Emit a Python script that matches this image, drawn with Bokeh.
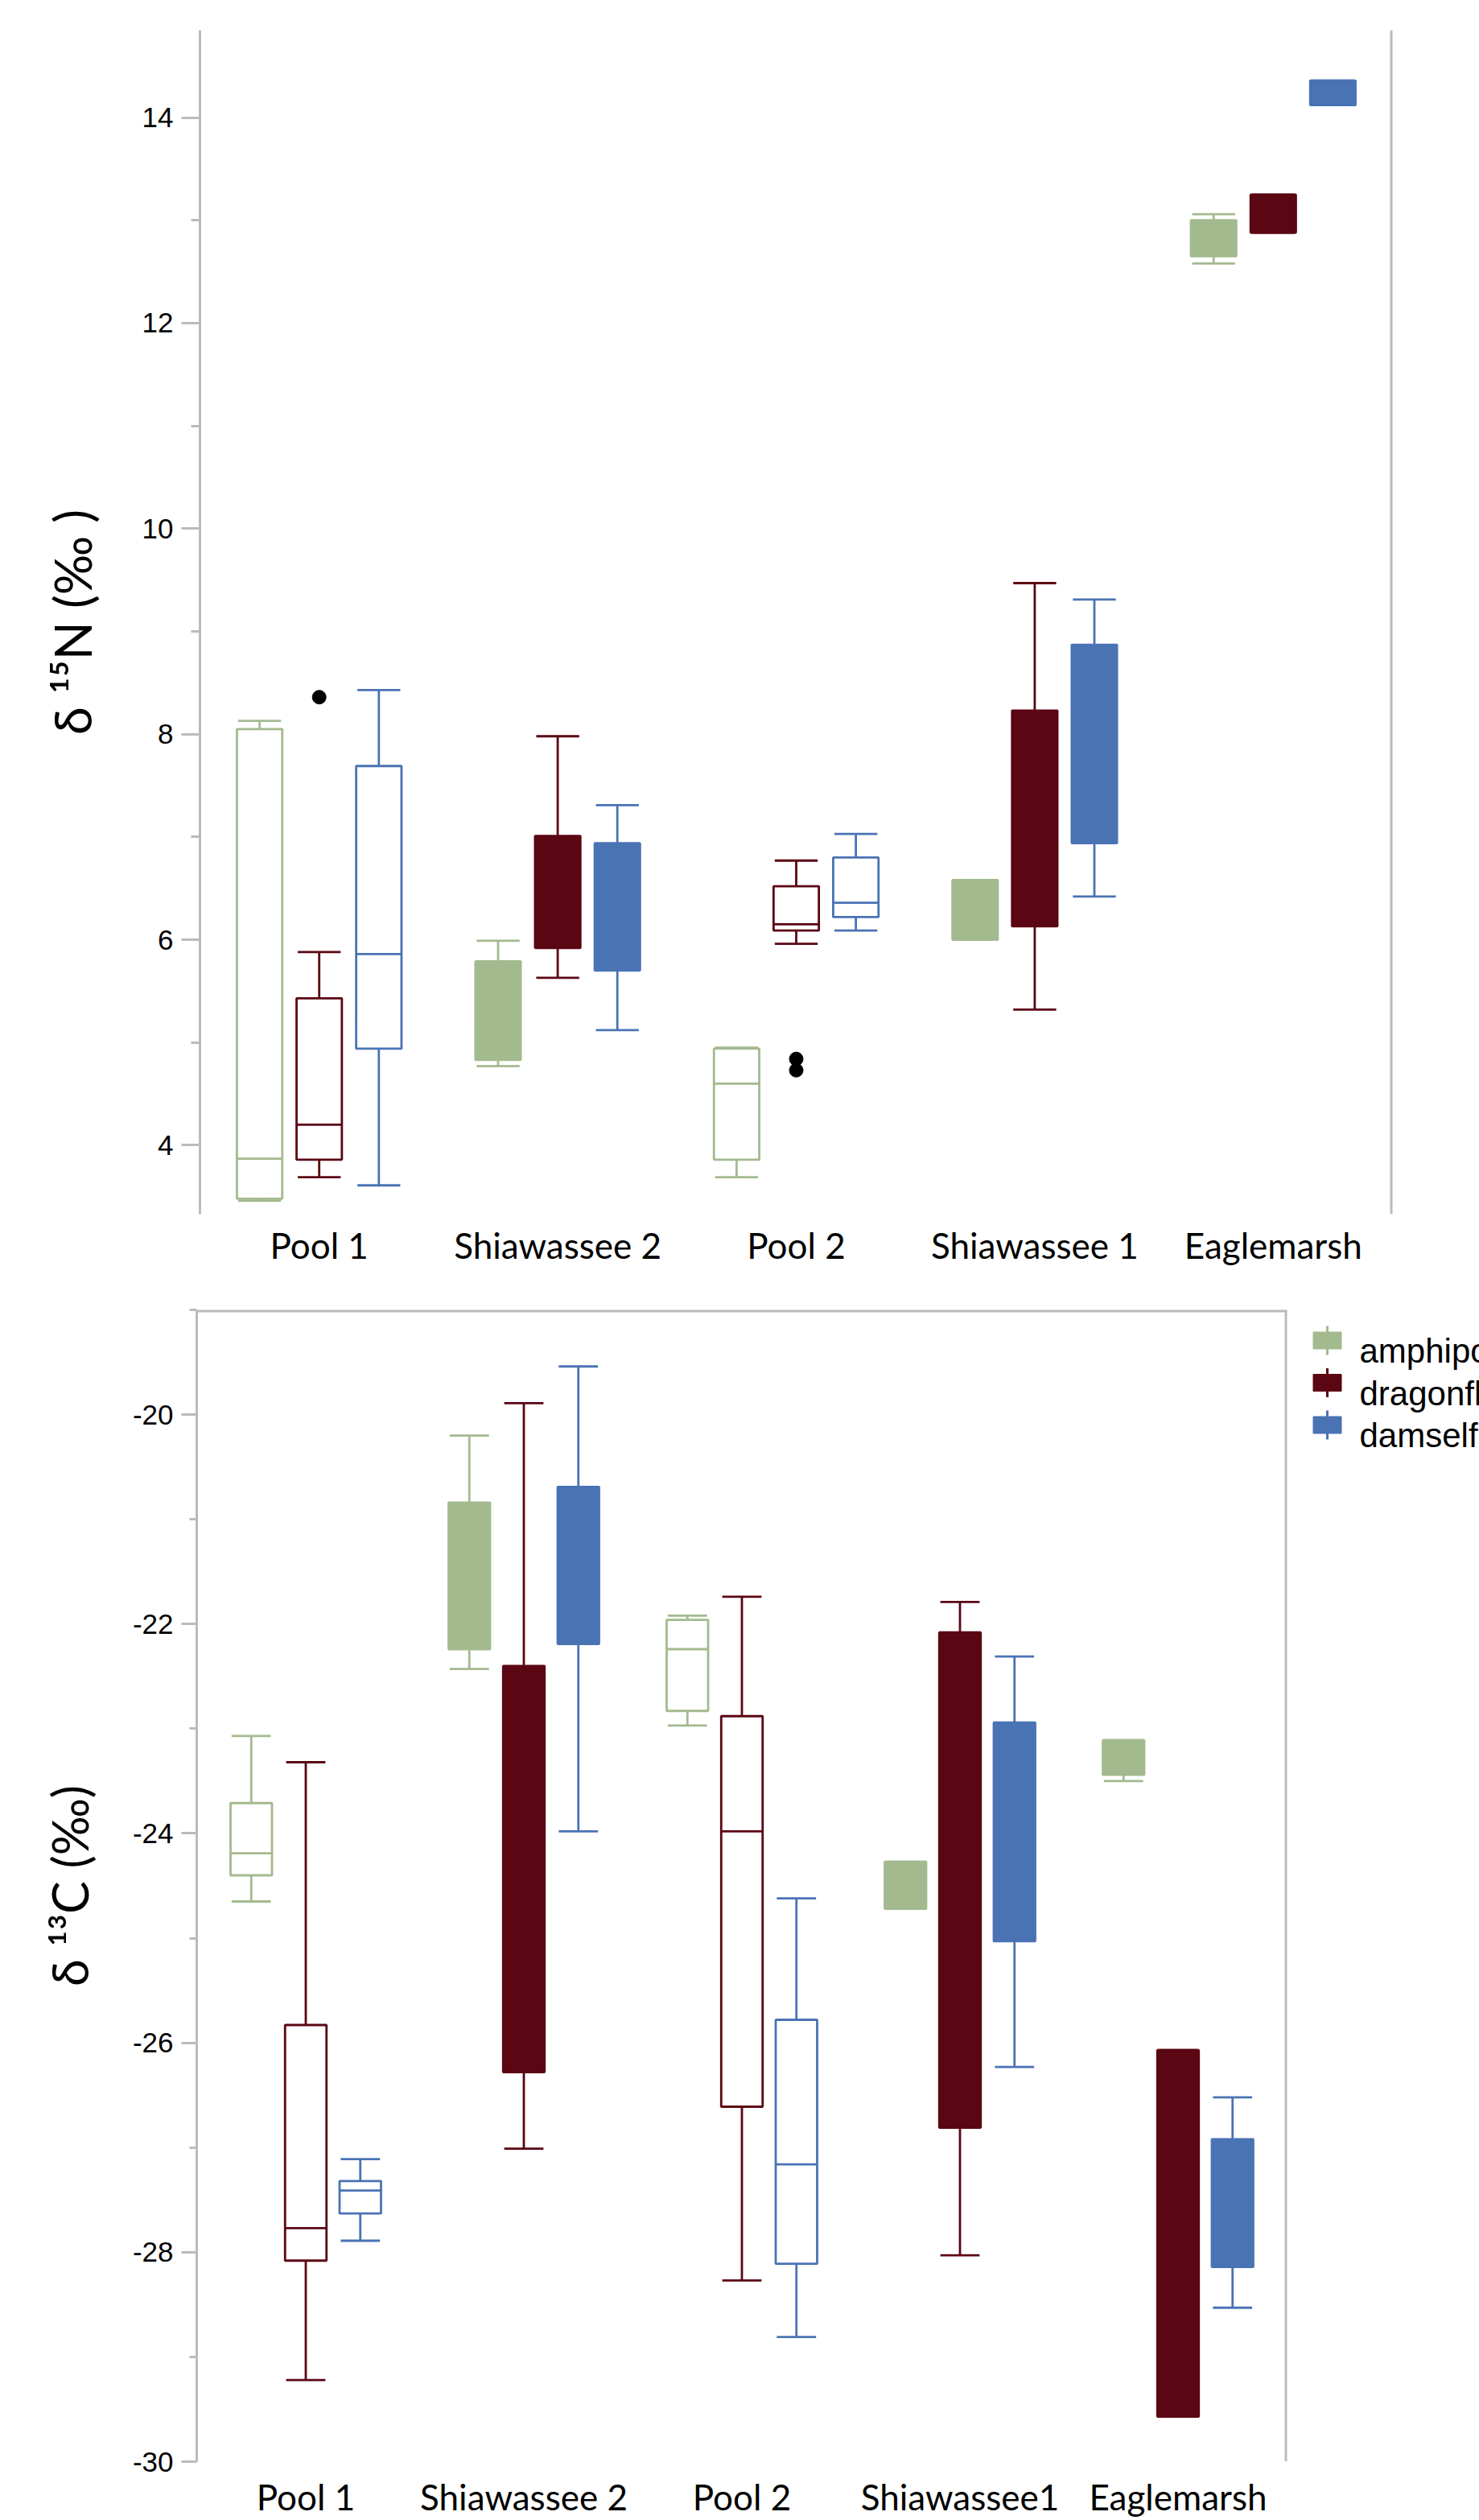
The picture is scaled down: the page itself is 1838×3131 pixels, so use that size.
from bokeh.plotting import figure
from bokeh.models import (ColumnDataSource, FactorRange, Range1d, FixedTicker, Span,
                          PrintfTickFormatter)
from bokeh.core.properties import value
from bokeh.transform import dodge
from bokeh.layouts import column, row
from bokeh.embed import file_html
from bokeh.resources import INLINE

# ---------------- data ----------------
sites_n = ["Pool 1", "Shiawassee 2", "Pool 2", "Shiawassee 1", "Eaglemarsh"]
sites_c = ["Pool 1", "Shiawassee 2", "Pool 2", "Shiawassee1", "Eaglemarsh"]
species = ["amphipod", "dragonfly", "damselfly"]
filled_sites = [False, True, False, True, True]

# delta 15N (permil): whisker low, Q1, median, Q3, whisker high per site
n_amphipod_low = [3.46, 4.77, 3.69, 6.00, 12.58]
n_amphipod_q1 = [3.48, 4.83, 3.86, 6.00, 12.65]
n_amphipod_med = [3.87, None, 4.60, None, None]
n_amphipod_q3 = [8.05, 5.79, 4.94, 6.58, 13.00]
n_amphipod_high = [8.13, 5.99, 4.95, 6.58, 13.06]

n_dragonfly_low = [3.69, 5.63, 5.96, 5.32, 12.88]
n_dragonfly_q1 = [3.86, 5.92, 6.09, 6.13, 12.88]
n_dragonfly_med = [4.20, None, 6.15, None, None]
n_dragonfly_q3 = [5.43, 7.01, 6.52, 8.23, 13.25]
n_dragonfly_high = [5.88, 7.98, 6.77, 9.47, 13.25]

n_damselfly_low = [3.61, 5.12, 6.09, 6.42, 14.12]
n_damselfly_q1 = [4.94, 5.70, 6.22, 6.94, 14.12]
n_damselfly_med = [5.86, None, 6.36, None, None]
n_damselfly_q3 = [7.69, 6.94, 6.80, 8.87, 14.36]
n_damselfly_high = [8.43, 7.31, 7.03, 9.31, 14.36]

n_outlier_site = ["Pool 1", "Pool 2", "Pool 2"]
n_outlier_value = [8.36, 4.84, 4.73]

# delta 13C (permil)
c_amphipod_low = [-24.65, -22.43, -22.97, -24.72, -23.50]
c_amphipod_q1 = [-24.40, -22.24, -22.83, -24.72, -23.44]
c_amphipod_med = [-24.19, None, -22.24, None, None]
c_amphipod_q3 = [-23.71, -20.84, -21.96, -24.27, -23.11]
c_amphipod_high = [-23.07, -20.20, -21.92, -24.27, -23.11]

c_dragonfly_low = [-29.22, -27.01, -28.27, -28.03, -29.57]
c_dragonfly_q1 = [-28.08, -26.28, -26.61, -26.81, -29.57]
c_dragonfly_med = [-27.77, None, -23.98, None, None]
c_dragonfly_q3 = [-25.83, -22.40, -22.88, -22.08, -26.07]
c_dragonfly_high = [-23.32, -19.89, -21.74, -21.79, -26.07]

c_damselfly_low = [-27.89, -23.98, -28.81, -26.23, -28.53]
c_damselfly_q1 = [-27.63, -22.19, -28.11, -25.03, -28.14]
c_damselfly_med = [-27.41, None, -27.16, None, None]
c_damselfly_q3 = [-27.32, -20.69, -25.78, -22.94, -26.92]
c_damselfly_high = [-27.11, -19.54, -24.62, -22.31, -26.52]

n_major_ticks = [4, 6, 8, 10, 12, 14]
n_minor_ticks = [5, 7, 9, 11, 13]
c_major_ticks = [-30, -28, -26, -24, -22, -20]
c_minor_ticks = [-29, -27, -25, -23, -21, -19]

# ---------------- style ----------------
colors = {"amphipod": "#A3BA8F", "dragonfly": "#5B0613", "damselfly": "#4A73B4"}
offsets = {"amphipod": -0.25, "dragonfly": 0.0, "damselfly": 0.25}
AXIS_GRAY = "#BBBBBB"
BOX_W = 0.19
CAP_W = 0.18
LW = 2.8

n_stats = {
    "amphipod": (n_amphipod_low, n_amphipod_q1, n_amphipod_med, n_amphipod_q3, n_amphipod_high),
    "dragonfly": (n_dragonfly_low, n_dragonfly_q1, n_dragonfly_med, n_dragonfly_q3, n_dragonfly_high),
    "damselfly": (n_damselfly_low, n_damselfly_q1, n_damselfly_med, n_damselfly_q3, n_damselfly_high),
}
c_stats = {
    "amphipod": (c_amphipod_low, c_amphipod_q1, c_amphipod_med, c_amphipod_q3, c_amphipod_high),
    "dragonfly": (c_dragonfly_low, c_dragonfly_q1, c_dragonfly_med, c_dragonfly_q3, c_dragonfly_high),
    "damselfly": (c_damselfly_low, c_damselfly_q1, c_damselfly_med, c_damselfly_q3, c_damselfly_high),
}


def no_align(p):
    try:
        p.frame_align = False
    except Exception:
        pass


def draw_boxes(p, sites, stats):
    for sp in species:
        low, q1, med, q3, high = stats[sp]
        col = colors[sp]
        off = offsets[sp]
        src = ColumnDataSource(dict(
            site=sites, low=low, q1=q1, q3=q3, high=high,
            fill=[col if f else "white" for f in filled_sites]))
        xc = dodge("site", off, range=p.x_range)
        xl = dodge("site", off - CAP_W / 2, range=p.x_range)
        xr = dodge("site", off + CAP_W / 2, range=p.x_range)
        p.segment(x0=xc, y0="q3", x1=xc, y1="high", source=src, line_color=col, line_width=LW)
        p.segment(x0=xc, y0="low", x1=xc, y1="q1", source=src, line_color=col, line_width=LW)
        p.segment(x0=xl, y0="high", x1=xr, y1="high", source=src, line_color=col, line_width=LW)
        p.segment(x0=xl, y0="low", x1=xr, y1="low", source=src, line_color=col, line_width=LW)
        p.vbar(x=xc, width=BOX_W, bottom="q1", top="q3", source=src,
               fill_color="fill", line_color=col, line_width=LW)
        msites = [s for s, m in zip(sites, med) if m is not None]
        mvals = [m for m in med if m is not None]
        msrc = ColumnDataSource(dict(site=msites, med=mvals))
        mxl = dodge("site", off - BOX_W / 2, range=p.x_range)
        mxr = dodge("site", off + BOX_W / 2, range=p.x_range)
        p.segment(x0=mxl, y0="med", x1=mxr, y1="med", source=msrc, line_color=col, line_width=LW)


def style_common(p, major, minor, tick_out, minor_out, label, label_standoff):
    p.xgrid.visible = False
    p.ygrid.visible = False
    p.outline_line_color = None
    p.background_fill_color = "white"
    p.border_fill_color = "white"
    ya = p.yaxis[0]
    ya.ticker = FixedTicker(ticks=major, minor_ticks=minor)
    ya.formatter = PrintfTickFormatter(format="%d")
    ya.axis_line_color = AXIS_GRAY
    ya.axis_line_width = 3
    ya.major_tick_line_color = AXIS_GRAY
    ya.major_tick_line_width = 3
    ya.minor_tick_line_color = AXIS_GRAY
    ya.minor_tick_line_width = 3
    ya.major_tick_in = 0
    ya.major_tick_out = tick_out
    ya.minor_tick_in = 0
    ya.minor_tick_out = minor_out
    ya.major_label_text_font = "Liberation Sans"
    ya.major_label_text_font_size = "35px"
    ya.major_label_text_color = "black"
    ya.major_label_standoff = 10
    ya.axis_label = label
    ya.axis_label_text_font = "Lato"
    ya.axis_label_text_font_size = "63px"
    ya.axis_label_text_font_style = "normal"
    ya.axis_label_text_color = "black"
    ya.axis_label_standoff = label_standoff
    xa = p.xaxis[0]
    xa.axis_line_color = None
    xa.major_tick_line_color = None
    xa.minor_tick_line_color = None
    xa.major_label_text_font = "Lato"
    xa.major_label_text_font_size = "44px"
    xa.major_label_text_color = "black"


# ---------------- top chart: delta 15N ----------------
p1 = figure(x_range=FactorRange(*sites_n), y_range=Range1d(3.33, 14.85),
            width=1838, height=1600, output_backend="svg", toolbar_location=None,
            min_border_left=248, min_border_right=108, min_border_top=37, min_border_bottom=92)
no_align(p1)
draw_boxes(p1, sites_n, n_stats)
osrc = ColumnDataSource(dict(site=n_outlier_site, v=n_outlier_value))
p1.scatter(x=dodge("site", offsets["dragonfly"], range=p1.x_range), y="v", source=osrc,
           size=17, fill_color="black", line_color="black")
style_common(p1, n_major_ticks, n_minor_ticks, 23, 11, "δ ¹⁵N (‰ )", 47)
p1.xaxis[0].major_label_standoff = 6
p1.add_layout(Span(location=len(sites_n), dimension="height", line_color=AXIS_GRAY, line_width=6))

# ---------------- bottom chart: delta 13C ----------------
W2 = 1605
H2 = 1531
p2 = figure(x_range=FactorRange(*sites_c), y_range=Range1d(-30, -19),
            width=W2, height=H2, output_backend="svg", toolbar_location=None,
            min_border_left=244, min_border_right=W2 - 1599, min_border_top=27, min_border_bottom=73)
no_align(p2)
draw_boxes(p2, sites_c, c_stats)
style_common(p2, c_major_ticks, c_minor_ticks, 19, 9, "δ ¹³C (‰)", 39)
p2.yaxis[0].axis_label_text_font_size = "61px"
p2.xaxis[0].major_label_standoff = 11
p2.add_layout(Span(location=len(sites_c), dimension="height", line_color=AXIS_GRAY, line_width=6))
p2.add_layout(Span(location=-19, dimension="width", line_color=AXIS_GRAY, line_width=6))

# ---------------- legend panel (pixel-unit coordinates, rows laid out by index) ----------------
WL = 1838 - W2
pleg = figure(x_range=Range1d(0, WL), y_range=Range1d(H2, 0), width=WL, height=H2,
              output_backend="svg", toolbar_location=None,
              min_border_left=0, min_border_right=0, min_border_top=0, min_border_bottom=0)
no_align(pleg)
pleg.axis.visible = False
pleg.xgrid.visible = False
pleg.ygrid.visible = False
pleg.outline_line_color = None
pleg.border_fill_color = "white"

LEG_ICON_X = 44
LEG_TEXT_X = 84
LEG_ROW0 = 65
LEG_ROW_H = 52.5
LEG_BOX_W = 35
LEG_BOX_HALF = 10.5
LEG_TICK_HALF = 18
LEG_BASELINE = 13
rows_y = [LEG_ROW0 + i * LEG_ROW_H for i in range(len(species))]
lsrc = ColumnDataSource(dict(
    label=species,
    color=[colors[s] for s in species],
    x=[LEG_ICON_X] * len(species),
    tx=[LEG_TEXT_X] * len(species),
    top=[y - LEG_BOX_HALF for y in rows_y],
    bottom=[y + LEG_BOX_HALF for y in rows_y],
    y0=[y - LEG_TICK_HALF for y in rows_y],
    y1=[y + LEG_TICK_HALF for y in rows_y],
    ty=[y + LEG_BASELINE for y in rows_y],
))
pleg.segment(x0="x", y0="y0", x1="x", y1="y1", source=lsrc, line_color="color", line_width=3)
pleg.vbar(x="x", width=LEG_BOX_W, top="top", bottom="bottom", source=lsrc,
          fill_color="color", line_color="color", line_width=1)
pleg.text(x="tx", y="ty", text="label", source=lsrc, text_font=value("Liberation Sans"),
          text_font_size="42px", text_color="black", text_baseline="alphabetic", text_align="left")

layout = column(p1, row(p2, pleg, spacing=0), spacing=0)
open("out.html", "w").write(file_html(layout, INLINE))
